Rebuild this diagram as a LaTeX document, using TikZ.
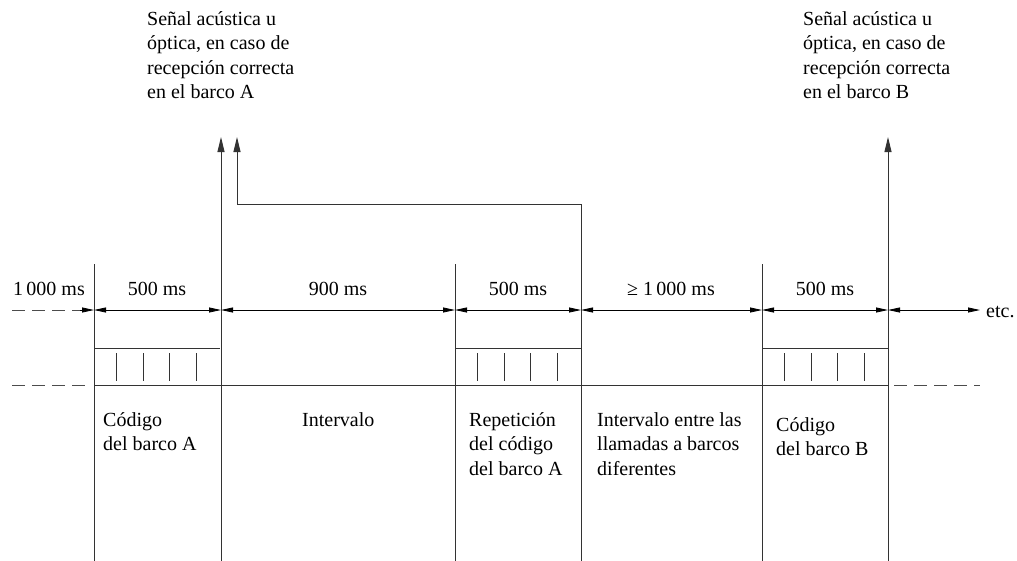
\documentclass[tikz,border=0pt]{standalone}
\usepackage{fontspec}
\setmainfont{Liberation Serif}
\usetikzlibrary{arrows.meta}
\begin{document}
\begin{tikzpicture}[x=1pt,y=-1pt,
  lin/.style={draw=black!80, line width=0.9pt},
  dimarrow/.style={draw=black, line width=0.8pt, {Triangle[length=12pt,width=5pt]}-{Triangle[length=12pt,width=5pt]}},
  halfarrow/.style={draw=black, line width=0.8pt, -{Triangle[length=12pt,width=5pt]}},
  uparrow/.style={draw=black!80, line width=0.9pt, -{Triangle[length=15pt,width=7pt]}},
  dashline/.style={draw=black!70, line width=0.8pt, dash pattern=on 13pt off 7pt},
  lbl/.style={font=\fontsize{20}{24.5}\selectfont, inner sep=0pt},
  block/.style={lbl, align=left, anchor=north west}
]
\useasboundingbox (0,0) rectangle (1017,560);

% key coordinates
\coordinate (a) at (94,310);  \coordinate (b) at (221,310);
\coordinate (c) at (455,310); \coordinate (d) at (581,310);
\coordinate (e) at (762,310); \coordinate (f) at (888,310);
\coordinate (lstart) at (12,310); \coordinate (rend) at (980,310);
\coordinate (a0) at (94,264);  \coordinate (a1) at (94,561);
\coordinate (b0) at (221,137); \coordinate (b1) at (221,561);
\coordinate (c0) at (455,264); \coordinate (c1) at (455,561);
\coordinate (d1) at (581,561); \coordinate (k) at (237,204); \coordinate (k0) at (237,137);
\coordinate (e0) at (762,264); \coordinate (e1) at (762,561);
\coordinate (f0) at (888,137); \coordinate (f1) at (888,561);

% vertical lines
\draw[lin] (a0) -- (a1);
\draw[lin] (c0) -- (c1);
\draw[lin] (e0) -- (e1);
\draw[uparrow] (b1) -- (b0);
\draw[uparrow] (f1) -- (f0);
\draw[uparrow] (d1) |- (k) -- (k0);

% dimension lines
\draw[dashline] (lstart) -- (80,310);
\draw[halfarrow] (80,310) -- (a);
\draw[dimarrow] (a) -- (b);
\draw[dimarrow] (b) -- (c);
\draw[dimarrow] (c) -- (d);
\draw[dimarrow] (d) -- (e);
\draw[dimarrow] (e) -- (f);
\draw[dimarrow] (f) -- (rend);

% base line and dashed extensions
\draw[lin] (94,385) -- (888,385);
\draw[dashline] (12,385) -- (90,385);
\draw[dashline] (894,385) -- (980,385);

% code boxes
\foreach \x in {94,455,762} {
  \draw[lin] (\x,348) -- (\x+126,348);
  \foreach \o in {22.5,49,75.5,102} \draw[lin] (\x+\o,353) -- (\x+\o,381);
}

% dimension labels
\node[lbl, anchor=base] (t1) at (49,295) {1\,000 ms};
\node[lbl, anchor=base] (t2) at (157,295) {500 ms};
\node[lbl, anchor=base] (t3) at (338,295) {900 ms};
\node[lbl, anchor=base] (t4) at (518,295) {500 ms};
\node[lbl, anchor=base] (t5) at (671,295) {≥ 1\,000 ms};
\node[lbl, anchor=base] (t6) at (825,295) {500 ms};
\node[lbl, anchor=base west] (etc) at (986,317) {etc.};

% top labels
\node[block] (sa) at (147,11) {Señal acústica u\\óptica, en caso de\\recepción correcta\\en el barco A};
\node[block] (sb) at (803,11) {Señal acústica u\\óptica, en caso de\\recepción correcta\\en el barco B};

% bottom labels
\node[block] (ca) at (103,412) {Código\\del barco A};
\node[block] (iv) at (302,412) {Intervalo};
\node[block] (rp) at (469,412) {Repetición\\del código\\del barco A};
\node[block] (ie) at (597,412) {Intervalo entre las\\llamadas a barcos\\diferentes};
\node[block] (cb) at (776,417) {Código\\del barco B};
\end{tikzpicture}
\end{document}
